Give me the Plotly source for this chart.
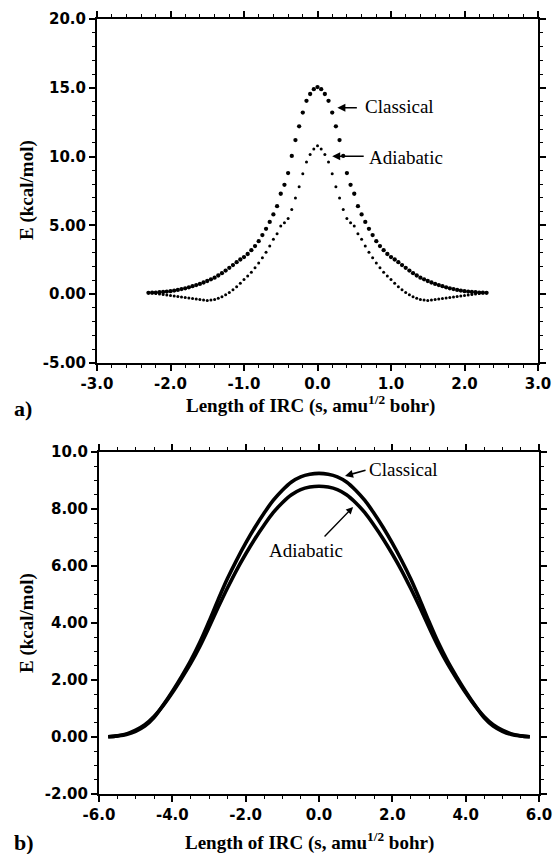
import plotly.graph_objects as go

# ---------------- data: panel a (top) ----------------
S_TOP = [-2.30, -2.25, -2.20, -2.15, -2.10, -2.05, -2.00, -1.95, -1.90, -1.85,
         -1.80, -1.75, -1.70, -1.65, -1.60, -1.55, -1.50, -1.45, -1.40, -1.35,
         -1.30, -1.25, -1.20, -1.15, -1.10, -1.05, -1.00, -0.95, -0.90, -0.85,
         -0.80, -0.75, -0.70, -0.65, -0.60, -0.55, -0.50, -0.45, -0.40, -0.35,
         -0.30, -0.25, -0.20, -0.15, -0.10, -0.05, 0.00,
         0.05, 0.10, 0.15, 0.20, 0.25, 0.30, 0.35, 0.40, 0.45, 0.50,
         0.55, 0.60, 0.65, 0.70, 0.75, 0.80, 0.85, 0.90, 0.95, 1.00,
         1.05, 1.10, 1.15, 1.20, 1.25, 1.30, 1.35, 1.40, 1.45, 1.50,
         1.55, 1.60, 1.65, 1.70, 1.75, 1.80, 1.85, 1.90, 1.95, 2.00,
         2.05, 2.10, 2.15, 2.20, 2.25, 2.30]

CLASSICAL_TOP = [0.10, 0.11, 0.12, 0.14, 0.16, 0.19, 0.22, 0.26, 0.31, 0.37,
                 0.43, 0.50, 0.58, 0.66, 0.75, 0.85, 0.96, 1.08, 1.20, 1.36,
                 1.53, 1.72, 1.92, 2.12, 2.33, 2.52, 2.70, 2.92, 3.20, 3.50,
                 3.85, 4.30, 4.75, 5.25, 5.80, 6.40, 7.30, 7.95, 8.80, 10.05,
                 11.20, 12.20, 13.20, 14.05, 14.55, 14.90, 15.05,
                 14.90, 14.55, 14.05, 13.20, 12.20, 11.20, 10.05, 8.80, 7.95, 7.30,
                 6.40, 5.80, 5.25, 4.75, 4.30, 3.85, 3.50, 3.20, 2.92, 2.70,
                 2.52, 2.33, 2.12, 1.92, 1.72, 1.53, 1.36, 1.20, 1.08, 0.96,
                 0.85, 0.75, 0.66, 0.58, 0.50, 0.43, 0.37, 0.31, 0.26, 0.22,
                 0.19, 0.16, 0.14, 0.12, 0.11, 0.10]

ADIABATIC_TOP = [0.10, 0.08, 0.05, 0.02, -0.02, -0.05, -0.09, -0.13, -0.16, -0.20,
                 -0.24, -0.27, -0.31, -0.35, -0.38, -0.42, -0.45, -0.43, -0.38, -0.30,
                 -0.18, -0.04, 0.13, 0.33, 0.55, 0.80, 1.07, 1.32, 1.60, 1.92,
                 2.27, 2.65, 3.05, 3.50, 4.00, 4.40, 4.95, 5.20, 5.50, 6.15,
                 7.00, 7.80, 8.75, 9.60, 10.15, 10.55, 10.78,
                 10.55, 10.15, 9.60, 8.75, 7.80, 7.00, 6.15, 5.50, 5.20, 4.95,
                 4.40, 4.00, 3.50, 3.05, 2.65, 2.27, 1.92, 1.60, 1.32, 1.07,
                 0.80, 0.55, 0.33, 0.13, -0.04, -0.18, -0.30, -0.38, -0.43, -0.45,
                 -0.42, -0.38, -0.35, -0.31, -0.27, -0.24, -0.20, -0.16, -0.13, -0.09,
                 -0.05, -0.02, 0.02, 0.05, 0.08, 0.10]

# ---------------- data: panel b (bottom) ----------------
S_BOT = [-5.75, -5.50, -5.25, -5.00, -4.75, -4.50, -4.25, -4.00, -3.75, -3.50,
         -3.25, -3.00, -2.75, -2.50, -2.25, -2.00, -1.75, -1.50, -1.25, -1.00,
         -0.75, -0.50, -0.25, 0.00, 0.25, 0.50, 0.75, 1.00, 1.25, 1.50,
         1.75, 2.00, 2.25, 2.50, 2.75, 3.00, 3.25, 3.50, 3.75, 4.00,
         4.25, 4.50, 4.75, 5.00, 5.25, 5.50, 5.75]

CLASSICAL_BOT = [0.01, 0.04, 0.09, 0.20, 0.38, 0.68, 1.12, 1.60, 2.12, 2.68,
                 3.32, 4.05, 4.82, 5.55, 6.20, 6.80, 7.35, 7.85, 8.30, 8.66,
                 8.95, 9.13, 9.22, 9.25, 9.22, 9.13, 8.95, 8.66, 8.30, 7.85,
                 7.35, 6.80, 6.20, 5.55, 4.82, 4.05, 3.32, 2.68, 2.12, 1.60,
                 1.12, 0.68, 0.38, 0.20, 0.09, 0.04, 0.01]

ADIABATIC_BOT = [0.01, 0.04, 0.11, 0.24, 0.43, 0.72, 1.10, 1.55, 2.05, 2.58,
                 3.18, 3.85, 4.55, 5.22, 5.85, 6.42, 6.95, 7.43, 7.87, 8.22,
                 8.50, 8.68, 8.77, 8.80, 8.77, 8.68, 8.50, 8.22, 7.87, 7.43,
                 6.95, 6.42, 5.85, 5.22, 4.55, 3.85, 3.18, 2.58, 2.05, 1.55,
                 1.10, 0.72, 0.43, 0.24, 0.11, 0.04, 0.01]

# tick labels
XT_TOP = [-3, -2, -1, 0, 1, 2, 3]
XT_TOP_TXT = ["-3.0", "-2.0", "-1.0", "0.0", "1.0", "2.0", "3.0"]
YT_TOP = [-5, 0, 5, 10, 15, 20]
YT_TOP_TXT = ["-5.00", "0.00", "5.00", "10.0", "15.0", "20.0"]
XT_BOT = [-6, -4, -2, 0, 2, 4, 6]
XT_BOT_TXT = ["-6.0", "-4.0", "-2.0", "0.0", "2.0", "4.0", "6.0"]
YT_BOT = [-2, 0, 2, 4, 6, 8, 10]
YT_BOT_TXT = ["-2.00", "0.00", "2.00", "4.00", "6.00", "8.00", "10.0"]

assert len(S_TOP) == len(CLASSICAL_TOP) == len(ADIABATIC_TOP)
assert len(S_BOT) == len(CLASSICAL_BOT) == len(ADIABATIC_BOT)

W, H = 553, 854
SERIF = "Liberation Serif"
TICKFONT = dict(family="DejaVu Sans", size=15, color="black", weight="bold")

fig = go.Figure()
fig.add_trace(go.Scatter(x=S_TOP, y=CLASSICAL_TOP, mode="markers",
                         marker=dict(size=4.3, color="black", line=dict(width=0)),
                         xaxis="x", yaxis="y", showlegend=False, hoverinfo="skip"))
fig.add_trace(go.Scatter(x=S_TOP, y=ADIABATIC_TOP, mode="markers",
                         marker=dict(size=3.0, color="black", line=dict(width=0)),
                         xaxis="x", yaxis="y", showlegend=False, hoverinfo="skip"))
fig.add_trace(go.Scatter(x=S_BOT, y=CLASSICAL_BOT, mode="lines",
                         line=dict(width=3.6, color="black", shape="spline"),
                         xaxis="x2", yaxis="y2", showlegend=False, hoverinfo="skip"))
fig.add_trace(go.Scatter(x=S_BOT, y=ADIABATIC_BOT, mode="lines",
                         line=dict(width=3.6, color="black", shape="spline"),
                         xaxis="x2", yaxis="y2", showlegend=False, hoverinfo="skip"))


def axis(domain, rng, tv, tt, anchor, mdt, m0):
    return dict(domain=domain, range=rng, anchor=anchor,
                tickmode="array", tickvals=tv, ticktext=tt,
                showline=True, linewidth=2, linecolor="black", mirror="ticks",
                ticks="outside", ticklen=6, tickwidth=1.5, tickcolor="black",
                showgrid=False, zeroline=False, tickfont=TICKFONT, automargin=False,
                minor=dict(tickmode="linear", tick0=m0, dtick=mdt, ticks="outside",
                           ticklen=3, tickwidth=1, tickcolor="black", showgrid=False))


fig.update_layout(
    width=W, height=H, margin=dict(l=0, r=0, t=0, b=0),
    paper_bgcolor="white", plot_bgcolor="white",
    xaxis=axis([97 / W, 538 / W], [-3, 3], XT_TOP, XT_TOP_TXT, "y", 0.2, -3),
    yaxis=axis([1 - 363 / H, 1 - 19 / H], [-5, 20], YT_TOP, YT_TOP_TXT, "x", 1.0, -5),
    xaxis2=axis([99 / W, 539 / W], [-6, 6], XT_BOT, XT_BOT_TXT, "y2", 0.5, -6),
    yaxis2=axis([1 - 794 / H, 1 - 452 / H], [-2, 10], YT_BOT, YT_BOT_TXT, "x2", 0.5, -2),
)

ann = []
title_font = dict(family=SERIF, size=19, color="black", weight="bold")
label_font = dict(family=SERIF, size=19, color="black")
xtitle = "Length of IRC (s, amu<sup>1/2</sup> bohr)"
ytitle = "E (kcal/mol)"
for yc in (190, 623):
    ann.append(dict(xref="paper", yref="paper", x=27 / W, y=1 - yc / H, text=ytitle,
                    textangle=-90, showarrow=False, font=title_font,
                    xanchor="center", yanchor="middle"))
for xc, yc in ((310, 404), (309, 841)):
    ann.append(dict(xref="paper", yref="paper", x=xc / W, y=1 - yc / H, text=xtitle,
                    showarrow=False, font=title_font, xanchor="center", yanchor="middle"))
for txt, yc in (("a)", 408), ("b)", 842)):
    ann.append(dict(xref="paper", yref="paper", x=12 / W, y=1 - yc / H, text=txt,
                    showarrow=False, font=dict(family=SERIF, size=22, color="black", weight="bold"),
                    xanchor="left", yanchor="middle"))

# panel a labels + arrows
ann.append(dict(xref="x", yref="y", x=0.62, y=13.66, text="Classical", showarrow=False,
                font=label_font, xanchor="left", yanchor="middle"))
ann.append(dict(xref="x", yref="y", x=0.27, y=13.55, ax=21, ay=0, text="",
                showarrow=True, arrowhead=2, arrowsize=1, arrowwidth=1.6, arrowcolor="black"))
ann.append(dict(xref="x", yref="y", x=0.675, y=9.96, text="Adiabatic", showarrow=False,
                font=label_font, xanchor="left", yanchor="middle"))
ann.append(dict(xref="x", yref="y", x=0.2, y=10.03, ax=33, ay=0, text="",
                showarrow=True, arrowhead=2, arrowsize=1, arrowwidth=1.6, arrowcolor="black"))

# panel b labels + arrows
ann.append(dict(xref="x2", yref="y2", x=1.31, y=9.37, text="Classical", showarrow=False,
                font=label_font, xanchor="left", yanchor="middle"))
ann.append(dict(xref="x2", yref="y2", x=0.71, y=9.16, ax=22, ay=-6, text="",
                showarrow=True, arrowhead=2, arrowsize=1, arrowwidth=1.6, arrowcolor="black"))
ann.append(dict(xref="x2", yref="y2", x=-0.355, y=6.56, text="Adiabatic", showarrow=False,
                font=label_font, xanchor="center", yanchor="middle"))
ann.append(dict(xref="x2", yref="y2", x=0.93, y=8.07, ax=-30, ay=31, text="",
                showarrow=True, arrowhead=2, arrowsize=1, arrowwidth=1.4, arrowcolor="black"))

fig.update_layout(annotations=ann)
fig.write_html("out.html", config={"displayModeBar": False},
               post_script="document.body.style.margin='0';document.body.style.overflow='hidden';")
